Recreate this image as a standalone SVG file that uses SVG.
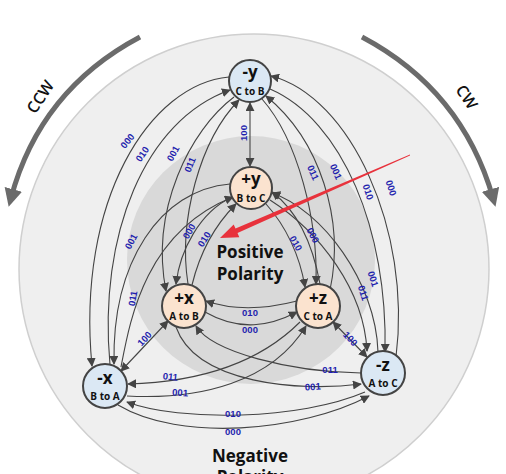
<svg xmlns="http://www.w3.org/2000/svg" width="506" height="474" viewBox="0 0 506 474">
<defs>
<marker id="ah" viewBox="0 0 10 10" refX="9" refY="5" markerWidth="9" markerHeight="9" markerUnits="userSpaceOnUse" orient="auto-start-reverse">
<path d="M0,0 L10,5 L0,10 Z" fill="#444"/>
</marker>
<marker id="big" viewBox="0 0 10 10" refX="5" refY="5" markerWidth="18" markerHeight="18" markerUnits="userSpaceOnUse" orient="auto">
<path d="M0,0 L10,5 L0,10 Z" fill="#6b6b6b"/>
</marker>
<style>
.e{fill:none;stroke:#444;stroke-width:1.1;marker-end:url(#ah)}
.b{fill:none;stroke:#444;stroke-width:1.1;marker-start:url(#ah);marker-end:url(#ah)}
.l{font-family:"Liberation Sans",Arial,sans-serif;font-size:9.5px;font-weight:bold;fill:#1f1fae;text-anchor:middle}
.nm{fill:#dbe8f4;stroke:#444;stroke-width:2}
.np{fill:#fbe3cf;stroke:#444;stroke-width:2}
.t1{font-family:"Open Sans","Liberation Sans",sans-serif;font-size:17px;font-weight:bold;fill:#111;text-anchor:middle}
.t2{font-family:"Open Sans","Liberation Sans",sans-serif;font-size:10px;font-weight:bold;fill:#111;text-anchor:middle}
.big{font-family:"Open Sans","Liberation Sans",sans-serif;font-size:17px;font-weight:bold;fill:#111;text-anchor:middle}
.dir{font-family:"Open Sans","Liberation Sans",sans-serif;font-size:16px;font-weight:600;fill:#111;text-anchor:middle}
</style>
</defs>
<rect width="506" height="474" fill="#fff"/>
<g id="background">
<circle cx="254" cy="269" r="235" fill="#efefef" stroke="#cfcfcf" stroke-width="1.5"/>
<circle cx="251" cy="260" r="124" fill="#d9d9d9"/>
</g>
<g id="rotation">
<path d="M140,37 Q40,90 11,198" fill="none" stroke="#6b6b6b" stroke-width="5" marker-end="url(#big)"/>
<path d="M362,37 Q462,90 493,198" fill="none" stroke="#6b6b6b" stroke-width="5" marker-end="url(#big)"/>
<text class="dir" transform="translate(45,100) rotate(-57)">CCW</text>
<text class="dir" transform="translate(462,100) rotate(57)">CW</text>
</g>
<g id="connectors">
<path class="e" d="M229,77 C150,84 76,200 92,366"/>
<path class="e" d="M110,365 C98,235 145,120 230,90"/>
<path class="e" d="M234,97 C190,130 150,210 166,291"/>
<path class="e" d="M188,284 C178,220 200,140 239,100"/>
<path class="e" d="M396,357 C412,230 350,96 271,76"/>
<path class="e" d="M270,89 C342,120 388,230 385,352"/>
<path class="e" d="M330,290 C345,220 320,140 266,96"/>
<path class="e" d="M262,99 C298,140 318,220 316,284"/>
<path class="e" d="M230,184 C160,190 112,262 114,364"/>
<path class="e" d="M121,367 C130,320 145,232 233,197"/>
<path class="e" d="M300,322 C260,362 200,382 128,384"/>
<path class="e" d="M127,396 C200,400 272,382 306,326"/>
<path class="e" d="M365,392 C300,420 180,422 127,402"/>
<path class="e" d="M118,405 C180,442 300,432 369,396"/>
<path class="e" d="M361,373 C290,372 212,352 196,326"/>
<path class="e" d="M176,327 C196,384 300,392 361,384"/>
<path class="e" d="M378,352 C376,282 322,210 272,193"/>
<path class="e" d="M270,200 C320,232 364,290 367,351"/>
<path class="e" d="M232,197 C200,212 180,250 176,284"/>
<path class="e" d="M192,285 C200,252 214,226 236,204"/>
<path class="e" d="M320,284 C312,240 296,210 272,192"/>
<path class="e" d="M266,204 C286,226 300,256 305,287"/>
<path class="e" d="M297,301 C262,310 232,310 206,301"/>
<path class="e" d="M205,312 C240,332 270,326 297,312"/>
<path class="b" d="M250,103 L250,166"/>
<path class="b" d="M121,371 L168,321"/>
<path class="b" d="M333,322 L367,357"/>
</g>
<g id="labels">
<text class="l" transform="translate(130,143) rotate(-52)">000</text>
<text class="l" transform="translate(145,156) rotate(-55)">010</text>
<text class="l" transform="translate(176,155) rotate(-62)">001</text>
<text class="l" transform="translate(193,166) rotate(-68)">011</text>
<text class="l" transform="translate(310,174) rotate(66)">011</text>
<text class="l" transform="translate(333,173) rotate(66)">001</text>
<text class="l" transform="translate(365,193) rotate(72)">010</text>
<text class="l" transform="translate(388,189) rotate(72)">000</text>
<text class="l" transform="translate(134,243) rotate(-62)">001</text>
<text class="l" transform="translate(136,299) rotate(-80)">011</text>
<text class="l" transform="translate(192,233) rotate(-60)">000</text>
<text class="l" transform="translate(207,241) rotate(-58)">010</text>
<text class="l" transform="translate(293,245) rotate(60)">010</text>
<text class="l" transform="translate(310,237) rotate(62)">000</text>
<text class="l" transform="translate(370,280) rotate(72)">001</text>
<text class="l" transform="translate(360,294) rotate(72)">011</text>
<text class="l" transform="translate(250,316)">010</text>
<text class="l" transform="translate(250,333)">000</text>
<text class="l" transform="translate(170,380) rotate(6)">011</text>
<text class="l" transform="translate(180,396) rotate(3)">001</text>
<text class="l" transform="translate(233,417)">010</text>
<text class="l" transform="translate(233,435)">000</text>
<text class="l" transform="translate(330,373)">011</text>
<text class="l" transform="translate(313,390) rotate(-3)">001</text>
<text class="l" transform="translate(247,133) rotate(-90)">100</text>
<text class="l" transform="translate(147,341) rotate(-47)">100</text>
<text class="l" transform="translate(348,341) rotate(47)">100</text>
</g>
<g id="node-my">
<circle class="nm" cx="250" cy="81" r="21"/>
<text class="t1" x="250" y="78">-y</text>
<text class="t2" x="250" y="95">C to B</text>
</g>
<g id="node-py">
<circle class="np" cx="251" cy="188" r="21"/>
<text class="t1" x="251" y="185">+y</text>
<text class="t2" x="251" y="202">B to C</text>
</g>
<g id="node-px">
<circle class="np" cx="184" cy="306" r="22"/>
<text class="t1" x="184" y="304">+x</text>
<text class="t2" x="184" y="320">A to B</text>
</g>
<g id="node-pz">
<circle class="np" cx="318" cy="306" r="22"/>
<text class="t1" x="318" y="304">+z</text>
<text class="t2" x="318" y="320">C to A</text>
</g>
<g id="node-mx">
<circle class="nm" cx="105" cy="386" r="22"/>
<text class="t1" x="105" y="384">-x</text>
<text class="t2" x="105" y="400">B to A</text>
</g>
<g id="node-mz">
<circle class="nm" cx="383" cy="373" r="22"/>
<text class="t1" x="383" y="371">-z</text>
<text class="t2" x="383" y="387">A to C</text>
</g>
<g id="pointer">
<polygon points="410,154.6 410,155.4 237.5,233.1 239.3,237.2 220,238 233.7,224.4 235.5,228.5" fill="#e8323c"/>
</g>
<g id="captions">
<text class="big" x="250" y="258">Positive</text>
<text class="big" x="250" y="280">Polarity</text>
<text class="big" x="250" y="462">Negative</text>
<text class="big" x="250" y="483">Polarity</text>
</g>
</svg>
